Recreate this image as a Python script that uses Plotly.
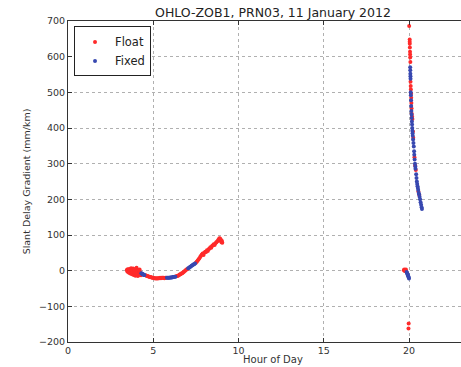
import plotly.graph_objects as go

float_hours = [3.45,3.48,3.5,3.53,3.55,3.58,3.6,3.63,3.65,3.68,3.7,3.72,3.75,3.78,3.8,3.82,3.85,3.88,3.9,3.92,3.95,3.98,4.0,4.02,4.05,4.08,4.1,4.12,4.15,4.18,4.2,4.22,4.25,4.28,
               4.55,4.6,4.65,4.7,4.75,4.8,4.85,4.9,4.95,5.0,5.05,5.1,5.15,5.2,5.25,5.3,5.35,5.4,5.45,5.5,5.55,5.6,5.65,5.7,5.75,
               6.35,6.4,6.45,6.5,6.55,6.6,6.65,6.7,6.75,6.8,6.85,6.9,6.95,7.0,
               7.5,7.55,7.6,7.65,7.7,7.75,7.8,7.85,7.9,7.95,8.0,8.05,8.1,8.15,8.2,8.25,8.3,8.35,8.4,8.45,8.5,8.55,8.6,8.65,8.7,8.75,8.8,8.85,8.88,8.9,8.92,8.95,8.98,9.0,9.03,9.05,
               19.7,19.72,19.75,19.77,19.8,19.82,19.84,19.98,19.97,
               20.01,20.04,20.04,20.045,20.05,20.06,20.065,20.07,20.08,20.09,20.1,20.11,20.12,20.13,20.14,20.15,20.16,20.18,20.2,20.23,20.25,20.32,20.36,20.4,20.55,20.6]
float_values = [2,-2,4,-4,1,-6,5,-1,-8,3,7,-3,-10,2,-5,6,-12,-2,4,-9,-14,0,-6,8,-11,-3,-15,2,-7,-12,3,-4,-9,-13,
                -13,-14,-15,-16,-17,-18,-18,-19,-20,-20,-21,-21,-22,-21,-22,-21,-21,-20,-21,-20,-20,-20,-21,-20,-20,
                -16,-15,-14,-13,-11,-10,-8,-7,-5,-3,-1,1,3,5,
                22,25,28,31,34,38,42,45,48,44,50,53,52,57,55,60,62,66,64,69,71,74,72,77,80,82,85,88,91,87,90,84,86,80,83,78,
                1,3,-1,2,0,3,-2,-148,-162,
                686,648,642,636,626,614,606,598,585,530,518,508,497,485,470,455,440,432,425,390,373,318,295,282,222,212]

fixed_hours = [4.3,4.33,4.36,4.39,4.42,4.45,4.48,
               5.8,5.85,5.9,5.95,6.0,6.05,6.1,6.15,6.2,6.25,6.3,
               7.05,7.1,7.15,7.2,7.25,7.3,7.35,7.4,7.45,
               19.86,19.88,19.9,19.92,19.94,19.96,19.98,20.0,
               20.07,20.075,20.08,20.085,20.09,20.1,20.11,20.12,20.13,20.14,20.15,20.16,20.17,20.18,20.19,20.2,20.21,20.22,20.24,20.26,20.28,20.3,20.31,20.33,20.35,20.37,20.38,20.42,20.44,20.46,20.48,20.5,20.52,20.54,20.57,20.59,20.62,20.65,20.68,20.71,20.74,20.76]
fixed_values = [-7,-8,-9,-10,-11,-12,-12,
                -20,-20,-20,-20,-19,-19,-19,-18,-18,-17,-17,
                7,8,10,12,14,15,17,18,20,
                -4,-6,-8,-11,-13,-16,-19,-22,
                570,562,552,545,538,500,492,478,462,448,438,428,418,410,400,392,385,378,368,358,348,335,325,312,300,292,286,270,260,250,243,237,232,226,218,214,207,200,192,185,178,173]

x_ticks = [0, 5, 10, 15, 20]
y_ticks = [-200, -100, 0, 100, 200, 300, 400, 500, 600, 700]

font = "DejaVu Sans"
fig = go.Figure()
fig.add_trace(go.Scatter(x=float_hours, y=float_values, mode="markers", name="Float",
                         marker=dict(color="#ff2a2a", size=4, line=dict(width=0))))
fig.add_trace(go.Scatter(x=fixed_hours, y=fixed_values, mode="markers", name="Fixed",
                         marker=dict(color="#3848b0", size=4, line=dict(width=0))))

fig.add_annotation(text="Hour of Day", xref="paper", yref="paper", x=0.5216, y=-0.077,
                   xanchor="center", yanchor="bottom", showarrow=False,
                   font=dict(size=10, color="#333333"))

fig.update_layout(
    width=461, height=367,
    margin=dict(l=68, r=0, t=21, b=25),
    paper_bgcolor="white", plot_bgcolor="white",
    font=dict(family=font, color="#333333", size=9.5),
    title=dict(text="OHLO-ZOB1, PRN03, 11 January 2012", x=0.5216, xref="paper",
               xanchor="center", y=0.965, yanchor="middle", yref="container",
               font=dict(size=12.5, color="#222222")),
    showlegend=True,
    legend=dict(x=0.0153, y=0.983, xanchor="left", yanchor="top",
                bordercolor="#222222", borderwidth=1, bgcolor="white",
                font=dict(size=11.5, color="#222222"), itemsizing="trace",
                itemwidth=30, tracegroupgap=0),
    xaxis=dict(range=[0, 23.05], tickvals=x_ticks, showgrid=True, gridcolor="#b0b0b0",
               griddash="dot", gridwidth=1, zeroline=False, showline=True, linecolor="#333333",
               linewidth=1, mirror="ticks", ticks="inside", ticklen=4, tickcolor="#333333"),
    yaxis=dict(range=[-200, 700], tickvals=y_ticks, showgrid=True, gridcolor="#b0b0b0",
               griddash="dot", gridwidth=1, zeroline=False, showline=True, linecolor="#333333",
               linewidth=1, mirror=False, ticks="inside", ticklen=4, tickcolor="#333333",
               title=dict(text="Slant Delay Gradient (mm/km)", standoff=6, font=dict(size=9.5))),
)

fig.write_html("out.html")
